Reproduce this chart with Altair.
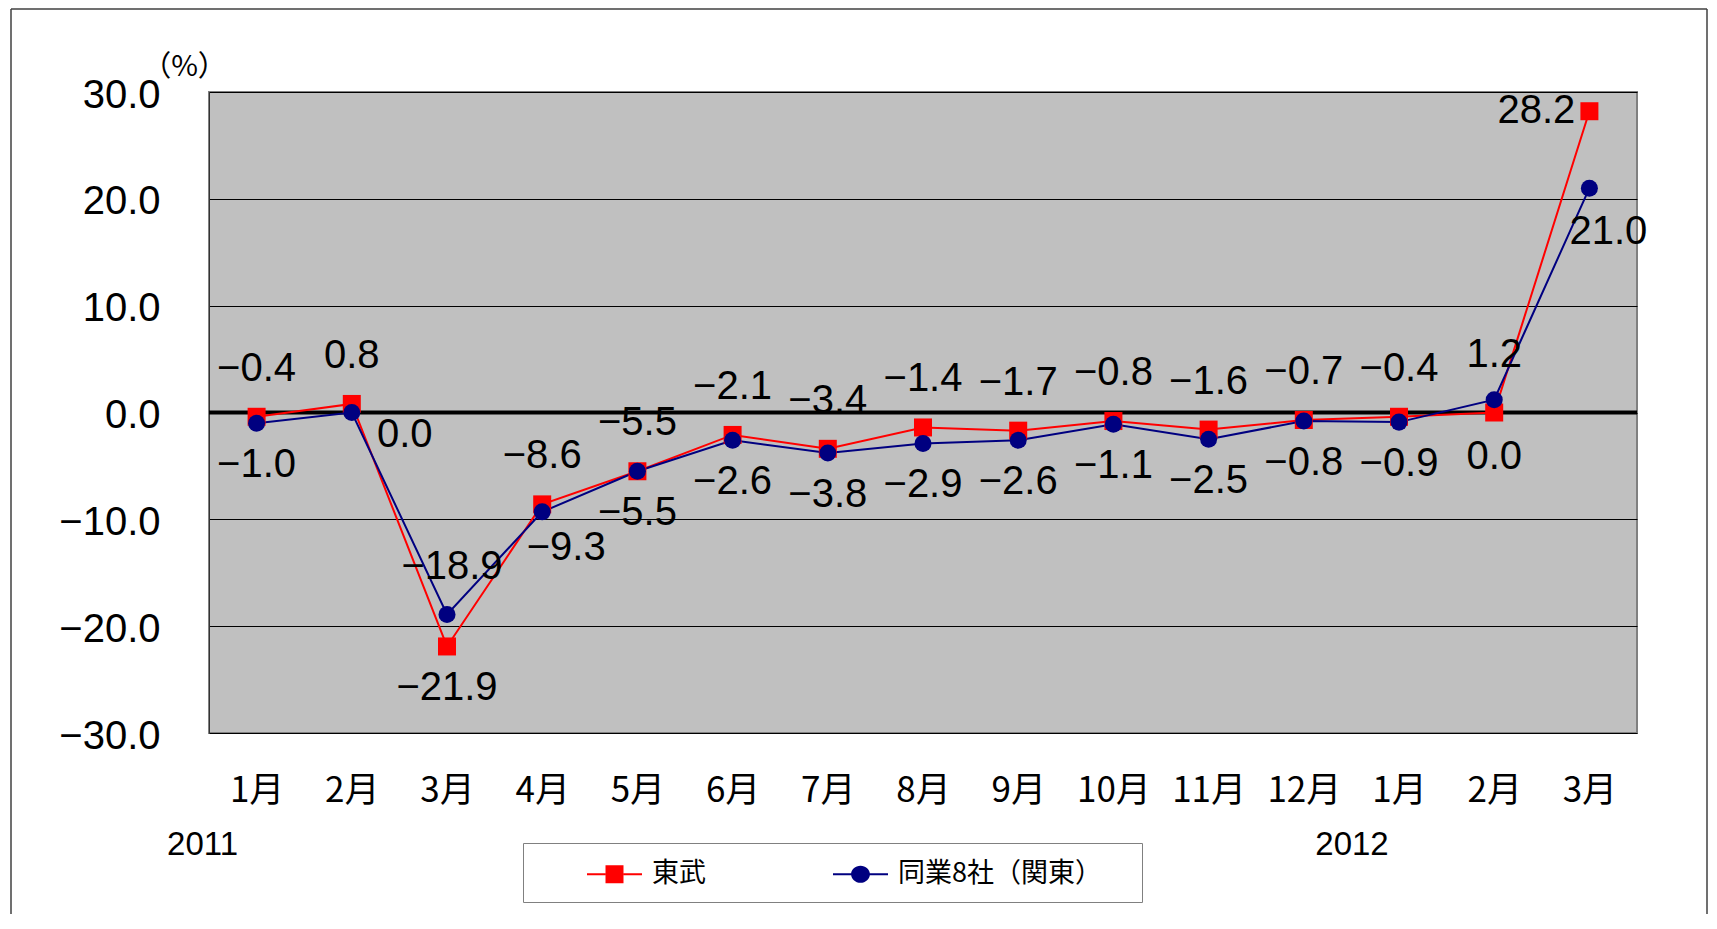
import json
import altair as alt
import pandas as pd

# ---- data ----
months = ["1月", "2月", "3月", "4月", "5月", "6月", "7月", "8月", "9月",
          "10月", "11月", "12月", "1月", "2月", "3月"]
tobu = [-0.4, 0.8, -21.9, -8.6, -5.5, -2.1, -3.4, -1.4, -1.7, -0.8, -1.6, -0.7, -0.4, 0.0, 28.2]
peers = [-1.0, 0.0, -18.9, -9.3, -5.5, -2.6, -3.8, -2.9, -2.6, -1.1, -2.5, -0.8, -0.9, 1.2, 21.0]
series_names = ["東武", "同業8社（関東）"]
year_labels = ["2011", "2012"]
year_idx = [0, 12]
y_ticks = [-30, -20, -10, 0, 10, 20, 30]

# ---- styles ----
colors = ["#FF0000", "#000080"]
NUM_FONT = "Liberation Sans Narrow, Liberation Sans, Arial, sans-serif"
JP_FONT = "Noto Sans CJK JP"
W, H = 1428, 641

rows = []
for name, vals in zip(series_names, [tobu, peers]):
    for i, v in enumerate(vals):
        rows.append({"idx": i, "series": name, "value": v})
df = pd.DataFrame(rows)

base = alt.Chart(df)
x_enc = alt.X("idx:O", scale=alt.Scale(domain=list(range(len(months)))),
              axis=alt.Axis(labelExpr=json.dumps(months, ensure_ascii=False) + "[datum.value]",
                            labelAngle=0, labelFont=JP_FONT, labelFontSize=35, labelColor="black",
                            labelPadding=40, ticks=False, tickSize=0, domain=False, grid=False,
                            title=None))
y_enc = alt.Y("value:Q", scale=alt.Scale(domain=[-30, 30], nice=False),
              axis=alt.Axis(values=y_ticks, format=".1f", labelFont=NUM_FONT, labelFontSize=40,
                            labelColor="black", labelPadding=49, labelOffset=3, ticks=False, tickSize=0,
                            grid=True, gridColor="black", gridWidth=1,
                            domainColor="#333333", domainWidth=1,
                            title="（%）", titleAngle=0, titleX=-25, titleY=-26,
                            titleAlign="center", titleBaseline="middle", titleFont=JP_FONT,
                            titleFontSize=29, titleFontWeight="normal", titleColor="black"))

# legend symbols: line stub + marker (unit = half of sqrt(symbolSize))
sq_path = ("M-1.667,-0.06H-0.55V0.06H-1.667Z M0.55,-0.06H1.667V0.06H0.55Z "
           "M-0.545,-0.545H0.545V0.545H-0.545Z")
ci_path = ("M-1.667,-0.06H-0.55V0.06H-1.667Z M0.55,-0.06H1.667V0.06H0.55Z "
           "M-0.57,0A0.57,0.52,0,1,1,0.57,0A0.57,0.52,0,1,1,-0.57,0Z")

leg = alt.Legend(orient="none", legendX=314, legendY=751, direction="horizontal",
                 title=" ", titleOrient="right", titlePadding=26, titleFontSize=1,
                 symbolSize=1089, symbolOffset=60.5, labelOffset=21, columnPadding=77,
                 padding=14.5, strokeColor="#808080", fillColor="white",
                 labelFont=JP_FONT, labelFontSize=27, labelColor="black", labelLimit=400,
                 symbolStrokeWidth=0, symbolOpacity=1)

legend_layer = base.mark_point(filled=True, size=1, strokeWidth=0, opacity=1).encode(
    x=x_enc, y=y_enc,
    color=alt.Color("series:N", scale=alt.Scale(domain=series_names, range=colors), legend=leg),
    shape=alt.Shape("series:N", scale=alt.Scale(domain=series_names, range=[sq_path, ci_path]), legend=leg),
)

zero_rule = alt.Chart(pd.DataFrame({"z": [0]})).mark_rule(color="black", strokeWidth=4).encode(
    y=alt.Y("z:Q"))

layers = [legend_layer, zero_rule]

for name, col in zip(series_names, colors):
    layers.append(base.transform_filter(alt.datum.series == name)
                  .mark_line(color=col, strokeWidth=2).encode(x=x_enc, y=y_enc))

layers.append(base.transform_filter(alt.datum.series == series_names[0])
              .mark_square(size=324, color=colors[0], opacity=1).encode(x=x_enc, y=y_enc))
layers.append(base.transform_filter(alt.datum.series == series_names[1])
              .mark_circle(size=290, color=colors[1], opacity=1).encode(x=x_enc, y=y_enc))

# data labels: default offset + exceptions
label_style = {
    series_names[0]: ((0, -48), {2: (0, 42), 13: (0, 44), 14: (-53, 0)}),
    series_names[1]: ((0, 42), {1: (53, 22), 2: (5, -47), 3: (24, 36), 13: (0, -45), 14: (19, 44)}),
}
for name in series_names:
    (ddx, ddy), exc = label_style[name]
    exc_list = json.dumps(list(exc.keys()))
    layers.append(
        base.transform_filter(f"datum.series == {json.dumps(name, ensure_ascii=False)} && indexof({exc_list}, datum.idx) < 0")
        .mark_text(dx=ddx, dy=ddy, font=NUM_FONT, fontSize=40, color="black", baseline="middle")
        .encode(x=x_enc, y=y_enc, text=alt.Text("value:Q", format=".1f")))
    for i, (edx, edy) in exc.items():
        layers.append(
            base.transform_filter(f"datum.series == {json.dumps(name, ensure_ascii=False)} && datum.idx == {i}")
            .mark_text(dx=edx, dy=edy, font=NUM_FONT, fontSize=40, color="black", baseline="middle")
            .encode(x=x_enc, y=y_enc, text=alt.Text("value:Q", format=".1f")))

# year labels
year_df = pd.DataFrame({"idx": year_idx, "year": year_labels})
for i, ydx in zip(year_idx, [-54, -47]):
    layers.append(
        alt.Chart(year_df).transform_filter(alt.datum.idx == i)
        .mark_text(dx=ydx, font="Liberation Sans, Arial, sans-serif", fontSize=33,
                   color="black", baseline="middle")
        .encode(x=x_enc, y=alt.value(753), text="year:N"))

# outer frame
one = pd.DataFrame({"k": [0]})
frame_col = "#404040"
layers.append(alt.Chart(one).mark_rule(color=frame_col, strokeWidth=1.5).encode(
    x=alt.value(-198), y=alt.value(-83), y2=alt.value(822)))
layers.append(alt.Chart(one).mark_rule(color=frame_col, strokeWidth=1.5).encode(
    x=alt.value(1498), y=alt.value(-83), y2=alt.value(822)))
layers.append(alt.Chart(one).mark_rule(color=frame_col, strokeWidth=1.5).encode(
    x=alt.value(-198), x2=alt.value(1498), y=alt.value(-83)))

chart = alt.layer(*layers).properties(
    width=W, height=H, padding={"left": 2, "top": 0, "right": 0, "bottom": 0},
    background="white",
).configure_view(fill="#C0C0C0", stroke="#808080", strokeWidth=2)

chart.save("out.html", embed_options={"renderer": "svg", "actions": False})
